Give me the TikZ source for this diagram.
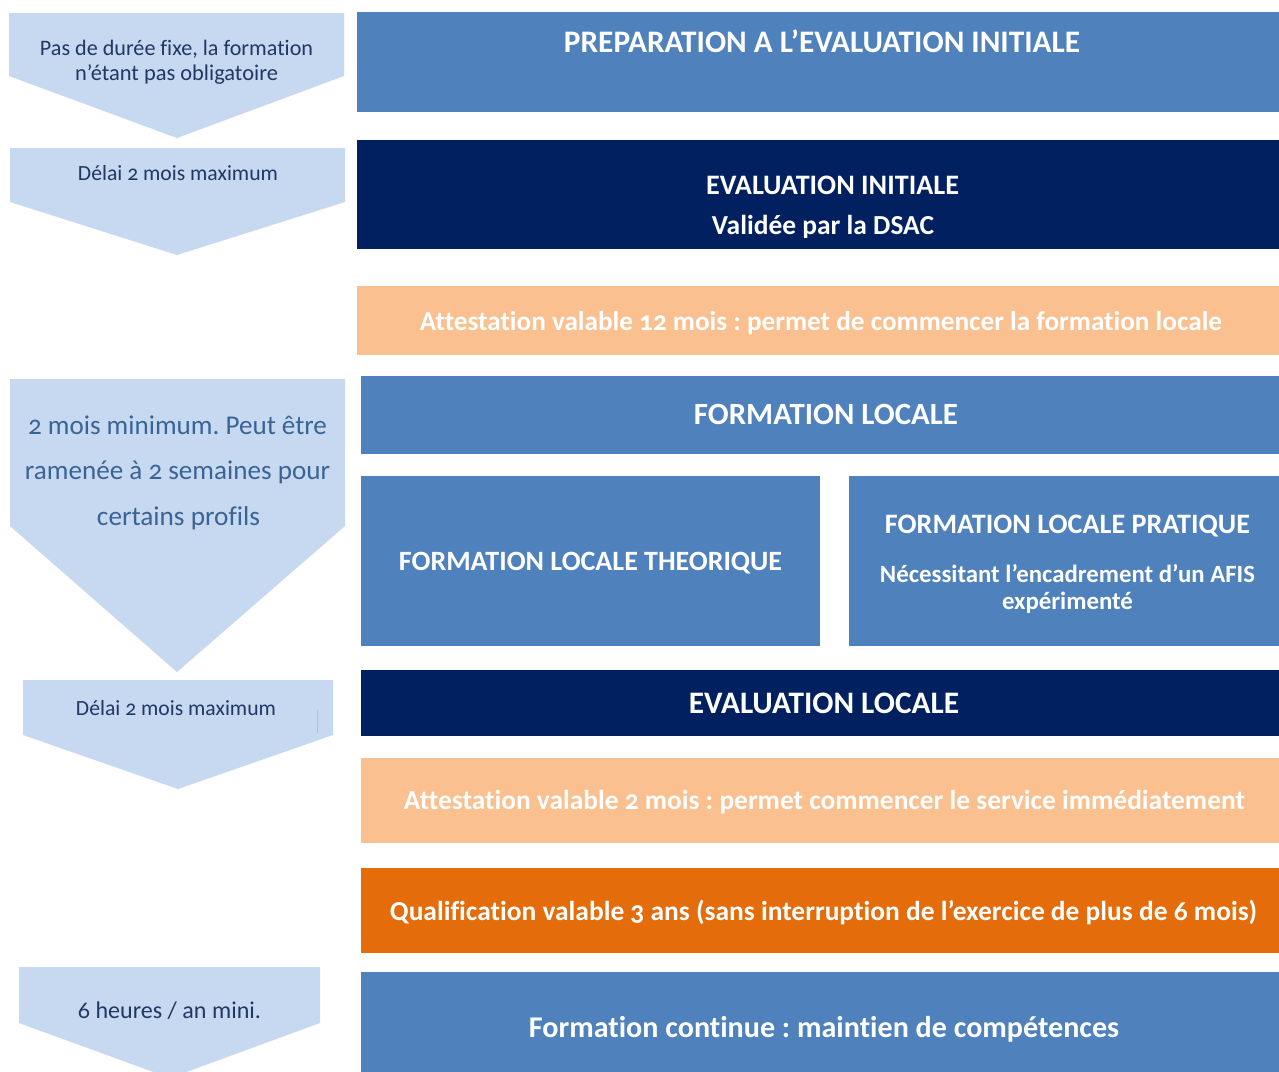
\documentclass[tikz,border=0pt]{standalone}
\usepackage{fontspec}
\setmainfont{Carlito}[Numbers=OldStyle, Ligatures=NoCommon]
\usepackage{graphicx}
\frenchspacing
\definecolor{midblue}{HTML}{4F81BD}
\definecolor{navy}{HTML}{002060}
\definecolor{peach}{HTML}{FAC090}
\definecolor{orangeq}{HTML}{E46C0A}
\definecolor{chev}{HTML}{C6D9F1}
\definecolor{chevtxt}{HTML}{1F3864}
\definecolor{chevtxtb}{HTML}{3A6495}
\newcommand\fw[2]{\resizebox{#1pt}{!}{#2}}
\tikzset{
  blk/.style={rectangle, inner sep=0pt, outer sep=0pt, draw=none, anchor=north west},
  wt/.style={text=white, font=\bfseries, anchor=base, inner sep=0pt},
  ct/.style={text=chevtxt, anchor=base, inner sep=0pt},
  ctb/.style={text=chevtxtb, anchor=base, inner sep=0pt},
  chevron/.style={fill=chev, draw=none},
}
\begin{document}
\frenchspacing
\begin{tikzpicture}[x=1pt,y=-1pt]
\useasboundingbox (0,0) rectangle (1279,1071);
\clip (0,0) rectangle (1279,1071);
\fill[white] (0,0) rectangle (1279,1071);

% chevrons
\fill[chevron] (9,13) -- (344,13) -- (344,76) -- (177,138) -- (9,76) -- cycle;
\fill[chevron] (10,148) -- (345,148) -- (345,202) -- (177,255) -- (10,202) -- cycle;
\fill[chevron] (10,379) -- (345,379) -- (345,526) -- (177,672) -- (10,526) -- cycle;
\fill[chevron] (23,680) -- (333,680) -- (333,735) -- (178,789) -- (23,735) -- cycle;
\draw[black!25, line width=0.6pt] (317.5,710) -- (317.5,733);
\fill[chevron] (19,967) -- (320,967) -- (320,1023) -- (170,1078) -- (19,1023) -- cycle;

\node[ct] (c1a) at (176.5,55) {\fw{273}{Pas de durée fixe, la formation}};
\node[ct] (c1b) at (176.5,80) {\fw{203}{n’étant pas obligatoire}};
\node[ct] (c2) at (178,180) {\fw{200}{Délai 2 mois maximum}};
\node[ctb] (c3a) at (177.5,434) {\fw{299}{2 mois minimum. Peut être}};
\node[ctb] (c3b) at (177.5,479) {\fw{305}{ramenée à 2 semaines pour}};
\node[ctb] (c3c) at (178.5,525) {\fw{163}{certains profils}};
\node[ct] (c4) at (176,715) {\fw{200}{Délai 2 mois maximum}};
\node[ct] (c5) at (169.5,1018) {\fw{183}{6 heures / an mini.}};

% boxes
\node[blk, fill=midblue, minimum width=922pt, minimum height=100pt] (prep) at (357,12) {};
\node[blk, fill=navy, minimum width=922pt, minimum height=109pt] (evini) at (357,140) {};
\node[blk, fill=peach, minimum width=922pt, minimum height=69pt] (att12) at (357,286) {};
\node[blk, fill=midblue, minimum width=918pt, minimum height=78pt] (floc) at (361,376) {};
\node[blk, fill=midblue, minimum width=459pt, minimum height=170pt] (ftheo) at (361,476) {};
\node[blk, fill=midblue, minimum width=430pt, minimum height=170pt] (fprat) at (849,476) {};
\node[blk, fill=navy, minimum width=918pt, minimum height=66pt] (evloc) at (361,670) {};
\node[blk, fill=peach, minimum width=918pt, minimum height=85pt] (att2) at (361,758) {};
\node[blk, fill=orangeq, minimum width=918pt, minimum height=85pt] (qual) at (361,868) {};
\node[blk, fill=midblue, minimum width=918pt, minimum height=105pt] (fcont) at (361,972) {};

% texts
\node[wt] (tprep) at (822,52) {\fw{516}{PREPARATION A L’EVALUATION INITIALE}};
\node[wt] (tevini) at (832.5,194) {\fw{253}{EVALUATION INITIALE}};
\begin{scope}
\clip (357,140) rectangle (1279,237.5);
\node[wt] (tvalid) at (823,234) {\fw{222}{Validée par la DSAC}};
\end{scope}
\node[wt] (tatt12) at (821,330) {\fw{802}{Attestation valable 12 mois : permet de commencer la formation locale}};
\node[wt] (tfloc) at (826,424) {\fw{264}{FORMATION LOCALE}};
\node[wt] (tftheo) at (590.5,570) {\fw{383}{FORMATION LOCALE THEORIQUE}};
\node[wt] (tfprat) at (1067.5,533) {\fw{365}{FORMATION LOCALE PRATIQUE}};
\node[wt] (tneces) at (1067.5,582) {\fw{375}{Nécessitant l’encadrement d’un AFIS}};
\node[wt] (texper) at (1067.5,609) {\fw{131}{expérimenté}};
\node[wt] (tevloc) at (824,713) {\fw{270}{EVALUATION LOCALE}};
\node[wt] (tatt2) at (824.5,809) {\fw{841}{Attestation valable 2 mois : permet commencer le service immédiatement}};
\node[wt] (tqual) at (823.5,920) {\fw{867}{Qualification valable 3 ans (sans interruption de l’exercice de plus de 6 mois)}};
\node[wt] (tfcont) at (824,1037) {\fw{590}{Formation continue : maintien de compétences}};
\end{tikzpicture}
\end{document}
